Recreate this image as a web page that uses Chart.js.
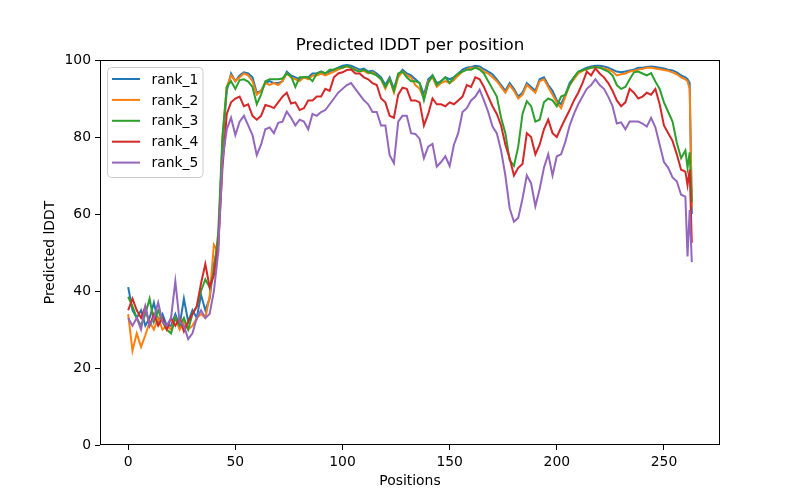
<!DOCTYPE html>
<html lang="en">
<head>
    <meta charset="UTF-8">
    <title>Predicted lDDT per position</title>
    <style>
        body { margin: 0; background: #fff; }
    </style>
</head>
<body>
    <canvas id="myChart" width="800" height="500"></canvas>
    <script src="https://cdn.jsdelivr.net/npm/chart.js"></script>
    <script>
        // residue positions (x) and per-model pLDDT
        const positions = [
            0, 2, 4, 6, 8, 10, 12, 14, 16, 18,
            20, 22, 24, 26, 28, 30, 32, 34, 36, 38,
            40, 42, 44, 46, 48, 50, 52, 54, 56, 58,
            60, 62, 64, 66, 68, 70, 72, 74, 76, 78,
            80, 82, 84, 86, 88, 90, 92, 94, 96, 98,
            100, 102, 104, 106, 108, 110, 112, 114, 116, 118,
            120, 122, 124, 126, 128, 130, 132, 134, 136, 138,
            140, 142, 144, 146, 148, 150, 152, 154, 156, 158,
            160, 162, 164, 166, 168, 170, 172, 174, 176, 178,
            180, 182, 184, 186, 188, 190, 192, 194, 196, 198,
            200, 202, 204, 206, 208, 210, 212, 214, 216, 218,
            220, 222, 224, 226, 228, 230, 232, 234, 236, 238,
            240, 242, 244, 246, 248, 250, 252, 254, 256, 258,
            260, 261, 262, 263
        ]

        const rank1 = [
            41, 35, 33, 35, 31, 33, 37, 32, 34, 31,
            31, 34, 31, 38, 32, 35, 33, 39, 35, 38,
            47, 52, 78, 92, 96.5, 94.5, 96, 96.8, 96.5, 95.5,
            91.5, 92, 94, 94.5, 94, 94, 94.5, 97, 96, 95.5,
            95, 95.5, 95.5, 96.5, 96.5, 97, 96.5, 97, 97.5, 98,
            98.5, 98.7, 98.5, 98, 97.5, 97.8, 97, 97.2, 96.5, 95.5,
            93.5, 95.5, 92.5, 96, 97.5, 96.5, 96, 95, 94, 91,
            95, 96, 94, 94.5, 95.5, 95, 95.5, 96.5, 97.5, 98,
            98.2, 98.5, 98.3, 97.6, 97, 96.3, 95, 93.5, 92, 94,
            92.5, 90.5, 91.5, 94, 93, 92, 95, 95.5, 93.5, 92,
            89.5, 88.5, 91, 94, 95.5, 96.8, 97.5, 98, 98.3, 98.5,
            98.5, 98.3, 98, 97.5, 97, 96.8, 97, 97.3, 97.5, 98,
            98, 98.2, 98.3, 98.2, 98, 97.8, 97.5, 97.3, 96.8, 96,
            95.5, 95, 94, 60
        ]

        const rank2 = [
            34, 24.5, 29, 25.5, 28.5, 32, 30, 33, 30, 31,
            30, 33, 30, 32, 30, 31, 33, 34, 33, 38.5,
            52, 50, 80, 93, 96, 94.5, 95.5, 96.5, 96, 94.5,
            91, 92, 94, 93.5, 94, 93.5, 94.5, 96.5, 95.5, 95,
            94.5, 95.5, 95, 96, 96, 96.5, 96, 96.5, 97, 97.5,
            98, 98.3, 98, 97.5, 97, 97.2, 96.5, 96.8, 96, 95,
            92.5, 95, 91.5, 95.5, 97, 96, 95.5, 93.5, 92.5, 90,
            94.5, 95.5, 93, 94, 94.5, 94, 94.8, 96, 97, 97.5,
            98, 98, 97.8, 97, 96.5, 95.5, 94.5, 93, 91.5, 93.5,
            92, 90, 91, 93.5, 92.5, 91.5, 94.5, 95, 93, 91,
            89, 87.5, 90.5, 93.5, 95, 96.5, 97.2, 97.6, 98, 98.2,
            98, 97.8, 97.5, 97, 96, 96.3, 96.5, 97, 97.2, 97.5,
            97.7, 98, 98, 97.8, 97.6, 97.4, 97.2, 96.8, 96.3, 95.5,
            95, 94.5, 92.5, 62
        ]

        const rank3 = [
            38.5, 36, 33, 31, 34, 38, 32, 35, 32, 30,
            29, 33, 31, 33, 30, 34, 36, 40, 43, 41,
            45, 55, 80, 93, 94.5, 92.5, 94.8, 95, 94.4, 93,
            88.5, 91, 94.5, 95, 95, 95, 95.2, 96.5, 95.8, 93,
            95.5, 95.5, 95.5, 94.5, 96.5, 97, 96.5, 97.5, 97.5, 98,
            98, 98.5, 98, 97.3, 97, 97.5, 96.8, 96.5, 96, 95,
            93, 95, 92, 96.5, 97, 95.5, 94.5, 94.5, 94, 89.5,
            94, 96, 93.5, 94.5, 95.5, 94, 95.5, 96.5, 97, 97.5,
            97.5, 98, 97.5, 96.5, 94.5, 92.5, 90.5, 85, 81, 74,
            72.5, 77.5, 86, 89.3, 88, 84, 84.5, 89, 90, 89.5,
            88, 90.5, 91, 93.5, 95.5, 97, 97.3, 97.7, 98, 98.2,
            98, 97.5, 97, 96, 93.5, 92.5, 93, 95, 96.8, 97,
            96.5, 96, 96.6, 94.4, 92.5, 89, 86.5, 84, 78.5, 74.5,
            76.5, 72, 76, 63
        ]

        const rank4 = [
            35, 38, 35, 33, 36, 31, 34, 31, 33, 30,
            33, 31, 33, 29.5, 32, 34, 36, 42, 47, 41,
            44, 52, 72, 86, 89, 90, 90.5, 88, 88.5, 85.5,
            84.5, 85.5, 88.3, 88, 87.5, 89, 90.5, 91.5, 88.7, 89,
            87, 87.5, 89.5, 89.5, 90.5, 90.5, 92.5, 92, 95.5, 96.5,
            96.8, 97.4, 97.5, 96.5, 96.5, 95.5, 95, 94, 93.5, 90,
            89, 85.5, 85, 91, 92.8, 92.5, 89.5, 89.5, 89, 83,
            86, 90, 88.5, 88.5, 88, 89, 88.5, 89.5, 90.5, 93.5,
            93, 95.5, 95, 93, 90.5, 88, 86, 83, 78, 74.5,
            70, 72, 73, 81, 80, 75.5, 78, 82, 84.5, 81,
            80, 82.5, 84.8, 87, 89.5, 91.5, 94, 97, 96, 97.8,
            96.5, 95.5, 94, 92, 89.5, 88, 89, 92.5, 91.5, 90,
            90.5, 91.5, 91, 92.5, 88.5, 83, 81, 79, 75.5, 71.5,
            71, 67.5, 71.5, 52.5
        ]

        const rank5 = [
            33, 31, 33, 30, 36, 31, 33, 37, 32, 31,
            33, 42.5, 32, 31, 27.5, 29, 33, 35, 33, 34,
            40, 50, 74, 82, 85, 80.5, 84, 85.5, 83, 80.5,
            75.3, 78, 82, 82.5, 81, 83.7, 84, 86.6, 85, 83,
            84.5, 84, 82, 86, 85.5, 86.5, 87, 88.5, 90, 91.5,
            92.5, 93.5, 94, 92.5, 91, 89.5, 88.5, 86.5, 86.5, 83,
            83, 75.3, 73.2, 84, 85.5, 85.5, 81, 80.8, 79.5, 74.5,
            77.5, 78.2, 72.3, 73.5, 75, 72.5, 78, 81, 86.5, 87.5,
            89.5, 90.5, 92.3, 89.5, 86.5, 82.7, 81, 76.5, 70, 61.5,
            58, 59, 64, 70, 68, 62, 66.5, 72, 75.5, 70,
            75, 75.5, 78.8, 83, 86, 88.5, 90.5, 92.5, 93.5, 95,
            93.5, 92.5, 90.5, 88, 83.5, 83.8, 82, 84, 84, 84,
            83.5, 82.7, 85, 82.5, 78, 73.5, 72, 69.5, 68.5, 65,
            64.5, 49, 61, 47.5
        ]

        const seriesNames = ['rank_1', 'rank_2', 'rank_3', 'rank_4', 'rank_5']
        const seriesValues = [rank1, rank2, rank3, rank4, rank5]
        const colors = ['#1f77b4', '#ff7f0e', '#2ca02c', '#d62728', '#9467bd']
        const xTicks = [0, 50, 100, 150, 200, 250]
        const yTicks = [0, 20, 40, 60, 80, 100]

        const FONT = 'DejaVu Sans'
        Chart.defaults.font.family = FONT
        Chart.defaults.color = '#000'

        // title, frame and legend drawn the matplotlib way
        const mplLook = {
            id: 'mplLook',
            afterDatasetsDraw(chart) {
                const {ctx, chartArea: a} = chart
                ctx.save()
                ctx.strokeStyle = '#000'
                ctx.lineWidth = 1
                ctx.strokeRect(a.left + 0.5, a.top + 0.5, a.right - a.left - 1, a.bottom - a.top - 1)

                ctx.fillStyle = '#000'
                ctx.font = '16.7px "' + FONT + '"'
                ctx.textAlign = 'center'
                ctx.textBaseline = 'middle'
                ctx.fillText('Predicted lDDT per position', (a.left + a.right) / 2, 46)

                // legend box
                const bx = 107.5, by = 67.5, bw = 95.5, bh = 110, r = 4
                ctx.beginPath()
                ctx.moveTo(bx + r, by)
                ctx.arcTo(bx + bw, by, bx + bw, by + bh, r)
                ctx.arcTo(bx + bw, by + bh, bx, by + bh, r)
                ctx.arcTo(bx, by + bh, bx, by, r)
                ctx.arcTo(bx, by, bx + bw, by, r)
                ctx.closePath()
                ctx.fillStyle = 'rgba(255,255,255,0.8)'
                ctx.fill()
                ctx.strokeStyle = '#cccccc'
                ctx.stroke()

                ctx.font = '13.9px "' + FONT + '"'
                ctx.textAlign = 'left'
                seriesNames.forEach((name, i) => {
                    const y = 79 + i * 20.9
                    ctx.strokeStyle = colors[i]
                    ctx.lineWidth = 2
                    ctx.beginPath()
                    ctx.moveTo(112, y)
                    ctx.lineTo(140, y)
                    ctx.stroke()
                    ctx.fillStyle = '#000'
                    ctx.fillText(name, 151.5, y + 1)
                })
                ctx.restore()
            }
        }

        const ctx = document.getElementById('myChart')
        const myChart = new Chart(ctx, {
            type: 'line',
            data: {
                datasets: seriesNames.map((name, i) => ({
                    label: name,
                    data: positions.map((p, j) => ({x: p, y: seriesValues[i][j]})),
                    borderColor: colors[i],
                    backgroundColor: colors[i],
                    borderWidth: 2,
                    pointRadius: 0,
                    tension: 0,
                    order: 4 - i
                }))
            },
            options: {
                responsive: false,
                animation: false,
                devicePixelRatio: 1,
                layout: { padding: { left: 0, right: 80, top: 60, bottom: 0 } },
                plugins: {
                    legend: { display: false },
                    tooltip: { enabled: false }
                },
                scales: {
                    x: {
                        type: 'linear',
                        min: -13.15,
                        max: 276.15,
                        afterBuildTicks: s => { s.ticks = xTicks.map(v => ({value: v})) },
                        afterFit: s => { s.height = 55 },
                        grid: { drawOnChartArea: false, color: '#000', tickLength: 5 },
                        border: { display: false },
                        ticks: { font: { size: 13.9 }, padding: 4, maxRotation: 0 },
                        title: { display: true, text: 'Positions', font: { size: 13.9 }, padding: { bottom: 10 } }
                    },
                    y: {
                        min: 0,
                        max: 100,
                        afterBuildTicks: s => { s.ticks = yTicks.map(v => ({value: v})) },
                        afterFit: s => { s.width = 100 },
                        grid: { drawOnChartArea: false, color: '#000', tickLength: 5 },
                        border: { display: false },
                        ticks: { font: { size: 13.9 }, padding: 4 },
                        title: { display: true, text: 'Predicted lDDT', font: { size: 13.9 }, padding: { top: 42 } }
                    }
                }
            },
            plugins: [mplLook]
        })
    </script>
</body>
</html>
